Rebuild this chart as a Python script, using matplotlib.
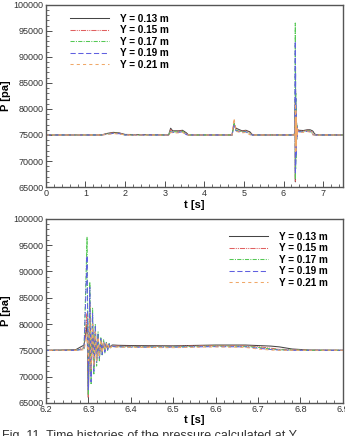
import matplotlib
matplotlib.use("Agg")
import matplotlib.pyplot as plt
from matplotlib.ticker import MultipleLocator

plt.rcParams['font.family'] = ['Liberation Sans', 'DejaVu Sans']

# shared time axis [s]
t = [0.0, 1.40, 1.55, 1.70, 1.85, 2.00,
     3.10, 3.15, 3.20, 3.35, 3.45, 3.55, 3.60,
     4.70, 4.75, 4.80, 4.95, 5.05, 5.15, 5.22,
     6.20, 6.27, 6.29,
     6.297, 6.300, 6.3035, 6.3065, 6.3100, 6.3130, 6.3165, 6.3195, 6.3230,
     6.3260, 6.3295, 6.3325, 6.3360, 6.3390, 6.3425, 6.3455, 6.3490, 6.3520,
     6.356, 6.360, 6.370, 6.400, 6.500, 6.600, 6.670, 6.700, 6.730, 6.750,
     6.780, 6.820, 6.900, 7.500]

labels = ["Y = 0.13 m", "Y = 0.15 m", "Y = 0.17 m", "Y = 0.19 m", "Y = 0.21 m"]

p013 = [75000, 75000, 75300, 75500, 75400, 75100,
        75000, 76300, 75800, 75800, 75900, 75400, 75000,
        75000, 77000, 76300, 75800, 75900, 75600, 75000,
        75000, 75100, 76000,
        80000, 66000, 82000, 71000, 79000, 72500, 78000, 73500, 77200,
        74300, 76800, 74800, 76400, 75100, 76200, 75400, 76100, 75600,
        76000, 76000, 75950, 75900, 75850, 76000, 76000, 75900, 75800, 75650,
        75250, 75050, 75000, 75000]
p015 = [75000, 75000, 75250, 75400, 75350, 75000,
        75000, 76000, 75700, 75700, 75800, 75200, 75000,
        75000, 77500, 76000, 75700, 75800, 75400, 75000,
        75000, 75000, 75500,
        82000, 66000, 84000, 70000, 80000, 72000, 78500, 73000, 77500,
        74000, 77000, 74600, 76600, 75000, 76300, 75300, 76100, 75500,
        75900, 75800, 75800, 75750, 75750, 75900, 75850, 75700, 75400, 75200,
        75100, 75000, 75000, 75000]
p017 = [75000, 75000, 75200, 75350, 75300, 75000,
        75000, 75800, 75600, 75600, 75700, 75100, 75000,
        75000, 77200, 75900, 75600, 75700, 75200, 75000,
        75000, 75000, 75300,
        96500, 66500, 88000, 68500, 83000, 70500, 80000, 72000, 78500,
        73000, 77500, 74000, 77000, 74500, 76500, 75000, 76300, 75400,
        75800, 75700, 75700, 75650, 75650, 75800, 75750, 75550, 75250, 75100,
        75050, 75000, 75000, 75000]
p019 = [75000, 75000, 75150, 75300, 75250, 75000,
        75000, 75600, 75500, 75500, 75600, 75050, 75000,
        75000, 76800, 75800, 75500, 75600, 75100, 75000,
        75000, 75000, 75200,
        93000, 67500, 87000, 69000, 82000, 71000, 79500, 72500, 78000,
        73500, 77200, 74200, 76800, 74700, 76400, 75100, 76200, 75400,
        75800, 75700, 75650, 75600, 75600, 75700, 75650, 75400, 75150, 75050,
        75000, 75000, 75000, 75000]
p021 = [75000, 75000, 75100, 75250, 75200, 75000,
        75000, 75500, 75400, 75400, 75500, 75000, 75000,
        75000, 78200, 75700, 75400, 75500, 75050, 75000,
        75000, 75000, 75100,
        78000, 73000, 81000, 71500, 80000, 72000, 78500, 73000, 77500,
        73800, 77000, 74500, 76600, 75000, 76300, 75300, 76100, 75500,
        75700, 75600, 75600, 75550, 75500, 75650, 75550, 75250, 75050, 75000,
        75000, 75000, 75000, 75000]

series = [p013, p015, p017, p019, p021]
colors = ["#444444", "#e06060", "#55c855", "#6060e0", "#f0a868"]
styles = ["-", (0, (5, 1, 1, 1, 1, 1)), (0, (4, 1.2, 1, 1.2)), (0, (5, 2.5)), (0, (3, 3))]

fig = plt.figure(figsize=(3.45, 4.36), dpi=100)
ax1 = fig.add_axes([0.133, 0.571, 0.861, 0.418])
ax2 = fig.add_axes([0.133, 0.076, 0.861, 0.422])

for ax in (ax1, ax2):
    for s, c, ls, lb in zip(series, colors, styles, labels):
        ax.plot(t, s, color=c, linestyle=ls, linewidth=0.75, label=lb)
    ax.set_ylim(65000, 100000)
    ax.yaxis.set_major_locator(MultipleLocator(5000))
    ax.yaxis.set_minor_locator(MultipleLocator(1000))
    ax.tick_params(which='both', direction='in', labelsize=6.5, colors='#333333',
                   top=False, right=False, pad=1.5)
    ax.tick_params(which='major', length=4, width=0.6)
    ax.tick_params(which='minor', length=2, width=0.5)
    for sp in ax.spines.values():
        sp.set_color('#555555')
        sp.set_linewidth(1.0)
    ax.set_ylabel("P [pa]", fontsize=8, fontweight='bold', labelpad=2)
    ax.set_xlabel("t [s]", fontsize=8, fontweight='bold', labelpad=1)

ax1.set_xlim(0, 7.5)
ax1.xaxis.set_major_locator(MultipleLocator(1))
ax1.xaxis.set_minor_locator(MultipleLocator(0.2))
ax2.set_xlim(6.2, 6.9)
ax2.xaxis.set_minor_locator(MultipleLocator(0.02))
ax2.set_xticks([6.2, 6.3, 6.4, 6.5, 6.6, 6.7, 6.8, 6.9])
ax2.set_xticklabels(["6.2", "6.3", "6.4", "6.5", "6.6", "6.7", "6.8", "6.9"])

leg_kw = dict(frameon=False, handlelength=3.9, handletextpad=1.1,
              labelspacing=0.15, prop={'weight': 'bold', 'size': 7.2})
ax1.legend(loc='upper left', bbox_to_anchor=(0.05, 1.0), **leg_kw)
ax2.legend(loc='upper right', bbox_to_anchor=(0.98, 0.98), **leg_kw)

fig.text(0.005, 1 - 430 / 436, "Fig. 11. Time histories of the pressure calculated at Y",
         fontsize=9, va='top', ha='left', color='#333333')

fig.savefig("out.png", dpi=100)
